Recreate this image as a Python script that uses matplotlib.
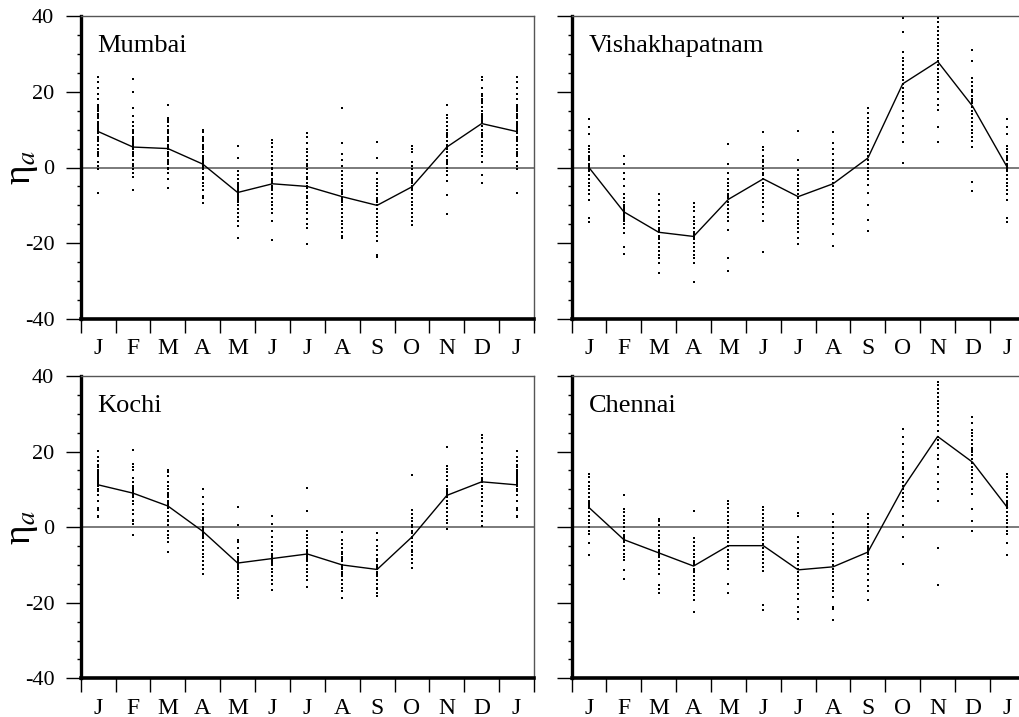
import numpy as np
import matplotlib.pyplot as plt
from matplotlib.ticker import MultipleLocator, FixedLocator

plt.rcParams['font.family'] = ['Liberation Serif', 'DejaVu Serif']
plt.rcParams['mathtext.fontset'] = 'stix'
plt.rcParams['axes.unicode_minus'] = False

months = ['J', 'F', 'M', 'A', 'M', 'J', 'J', 'A', 'S', 'O', 'N', 'D', 'J']

# monthly mean sea level anomaly (cm)
mumbai_mean = [9.5, 5.4, 5.0, 0.9, -6.6, -4.3, -5.0, -7.7, -10.0, -5.1, 5.4, 11.6]
vizag_mean = [0.0, -11.7, -17.1, -18.2, -8.4, -3.0, -7.7, -4.3, 2.5, 22.1, 28.0, 16.2]
kochi_mean = [11.2, 9.0, 5.6, -1.1, -9.5, -8.3, -7.1, -10.0, -11.2, -2.6, 8.4, 12.0]
chennai_mean = [5.2, -3.3, -6.8, -10.3, -4.9, -4.9, -11.3, -10.5, -6.6, 10.3, 24.0, 17.2]

# individual years, one list per month
mumbai_pts = [
    [23.8, 22.5, 21, 19.5, 18, 16.5, 16, 15.5, 15, 14, 13.5, 13, 12, 11.5, 11, 10.5, 10, 9.5, 9, 8, 7.5, 7, 6, 5, 4, 3.5, 3, 1.5, 0.5, -0.5, -6.8],
    [23.3, 19.9, 15.6, 13.5, 12, 11, 10, 9.5, 9, 8, 7.5, 7, 6.5, 6, 5.5, 5, 4, 3.5, 3, 2, 1, 0.5, -0.5, -1.5, -2.5, -6],
    [16.5, 13, 12.5, 12, 11, 10, 9.5, 9, 8, 7.5, 7, 6, 5.5, 5, 4, 3.5, 3, 2, 1.5, 1, 0, -0.5, -1.5, -3, -5.5],
    [10, 9.5, 8, 7.5, 7, 6, 5.5, 5, 4, 3, 2.5, 2, 1.5, 1, 0.5, 0, -0.5, -1.5, -2.5, -3, -4, -5, -6, -7.5, -8, -9.5],
    [5.8, 2.5, -1, -2, -3, -4, -4.5, -5, -5.5, -6, -6.5, -7, -7.5, -8, -8.5, -9, -10, -11, -12, -13, -14, -15.5, -18.7],
    [7.2, 6.5, 5.5, 4, 3, 2, 1, 0, -0.5, -1.5, -2, -3, -3.5, -4, -5, -5.5, -6, -7, -8, -9, -10, -11, -12, -14, -19.2],
    [9.2, 8, 6.5, 5, 4, 3, 2, 1, 0.5, -0.5, -1.5, -2.5, -3, -4, -5, -5.5, -6.5, -7.5, -8, -9, -10, -11, -12, -13.5, -15, -16, -20.2],
    [15.6, 6.6, 3.5, 2, 0.5, -1, -2, -3, -4, -5, -6, -6.5, -7, -8, -8.5, -9, -10, -11, -12, -13, -14, -15, -16, -17, -18, -18.5],
    [6.7, 2.4, -1.5, -3, -4, -5, -6, -7, -8, -8.5, -9, -10, -11, -12, -13, -14, -15, -16, -17, -18, -19.5, -23, -23.5],
    [5.8, 5, 4, 1.5, 0.5, -0.5, -1.5, -2, -3, -3.5, -4, -5, -5.5, -6, -7, -8, -9, -10, -11, -12, -13, -14, -15.3],
    [16.5, 13.8, 13, 12, 11, 10, 9, 8.5, 8, 7, 6, 5.5, 5, 4, 3, 2, 1.5, 1, 0, -1, -2, -3.5, -7.2, -12.2],
    [24, 23, 21, 19.5, 19, 18, 17.5, 17, 16, 15, 14, 13.5, 13, 12.5, 12, 11, 10, 9, 8.5, 8, 7, 6, 5, 4, 3, 1.5, -2, -4],
]
vizag_pts = [
    [12.8, 10.8, 8.8, 5.8, 5, 4, 3, 2.5, 2, 1, 0.5, 0, -0.5, -1, -2, -3, -4, -5, -6, -7, -8.5, -13.4, -14.4],
    [3.1, 0.9, -1.5, -3, -5, -7, -8, -9, -10, -10.5, -11, -11.5, -12, -12.5, -13, -13.5, -14, -15, -16, -17.4, -20.9, -22.8],
    [-7.1, -8.5, -10, -11.5, -13, -14, -15, -16, -16.5, -17, -18, -18.5, -19, -20, -21, -22, -23, -24, -25.3, -27.8],
    [-9.3, -10.3, -11.5, -13, -14, -15, -16, -17, -17.5, -18, -18.5, -19, -20, -21, -22, -23, -24, -25.3, -30.1],
    [6.1, 0.9, -1.5, -3, -4, -5, -6, -7, -7.5, -8, -9, -10, -11, -12, -13, -14, -16.5, -23.8, -27.3],
    [9.4, 5.5, 4.5, 3, 2, 1.5, 0.5, -0.5, -1.5, -2, -3, -4, -5, -6, -7, -8, -9, -10.5, -12.2, -14, -22.2],
    [9.7, 2, -0.6, -2, -3, -4, -5, -6, -7, -8, -9, -10, -11, -12, -13, -14, -15, -16, -17, -18.7, -20.2],
    [9.4, 6.5, 5, 3.5, 2, 1, 0, -1, -2, -3, -4, -5, -6, -7, -8, -9, -10, -11, -12, -13.5, -15, -17.5, -20.6],
    [15.6, 14.3, 13, 12, 11, 10, 9, 8, 7, 6, 5, 4, 3, 2, 1, 0, -1, -2, -3, -4.5, -6.8, -9.9, -13.8, -16.7],
    [39.4, 35.8, 30.5, 29, 28, 27, 26, 25, 24, 23, 22, 21, 20, 19, 18, 17, 15, 13, 11, 9, 6.7, 1.2],
    [39.6, 38.5, 37, 36, 35, 34, 33, 32, 31, 30, 29, 28, 27, 26, 25, 24, 23, 22, 21, 20, 18, 16.5, 15.3, 10.8, 6.7],
    [31, 28, 23.5, 22.5, 21.5, 20.5, 20, 19, 18, 17.5, 17, 16, 15, 14, 13, 12, 11, 10, 9, 8, 7, 5.5, -3.7, -6.3],
]
kochi_pts = [
    [20.1, 18.5, 17.5, 16.5, 16, 15, 14.5, 14, 13.5, 13, 12.5, 12, 11.5, 11, 10, 9.5, 8.5, 7, 5, 4.5, 3, 2.6],
    [20.4, 16.6, 16, 15, 13, 12, 11, 10.5, 10, 9.5, 9, 8.5, 8, 7, 6, 4.5, 3.5, 2, 1.5, 0.9, -2.2],
    [15.2, 14.5, 13.5, 12, 11, 10, 9, 8.5, 8, 7, 6.5, 6, 5.5, 5, 4, 3, 2, 1.5, 0.5, -1, -2, -3, -4, -6.6],
    [10.1, 7.9, 6, 4.5, 3.5, 2.5, 2, 1, 0, -0.5, -1, -1.5, -2, -2.5, -3, -4, -5, -6, -7, -8, -9, -10, -11, -12.3],
    [5.3, 0.6, -3.5, -4, -5.5, -7, -8, -8.5, -9, -9.5, -10, -10.5, -11, -12, -13, -14, -15, -16, -17, -18, -18.7],
    [2.9, 0.9, -1, -2.5, -4, -5, -6, -7, -7.5, -8, -8.5, -9, -9.5, -10, -11, -12, -13, -14, -15, -16.6],
    [10.3, 4.2, -0.9, -2, -3, -4, -5, -6, -6.5, -7, -7.5, -8, -8.5, -9, -10, -11, -12, -13, -14, -15.9],
    [-1.3, -3.5, -4.5, -5.5, -6.5, -7, -8, -8.5, -9, -10, -10.5, -11, -12, -12.5, -13, -14, -15, -16, -17, -18.7],
    [-1.6, -3.5, -5, -6, -7.5, -8.5, -9, -10, -10.5, -11, -12, -12.5, -13, -14, -15, -16, -16.5, -17.5, -18.3],
    [13.8, 4.6, 3.5, 2.5, 1.5, 0.5, 0, -1, -1.5, -2.5, -3, -4, -5, -6, -6.5, -7.5, -8.5, -9.5, -10.7],
    [21.3, 16.3, 15.5, 14.5, 13.5, 12.5, 11, 10, 9.5, 9, 8.5, 8, 7, 6, 5, 4, 3, 2, 1, -0.4],
    [24.5, 23.5, 22.5, 21, 19.5, 18, 17, 16, 15, 14, 13, 12.5, 12, 11, 10, 9, 8, 7, 5.5, 4, 3, 1.5, 0.4],
]
chennai_pts = [
    [14.1, 13.2, 12, 11, 10, 9, 8, 7, 6.5, 6, 5.5, 5, 4, 3, 2, 1, 0, -1, -1.8, -4.1, -7.3],
    [8.6, 4.8, 4, 3, 2, 1, 0, -1, -2, -2.5, -3, -3.5, -4, -5, -6, -7, -8, -8.8, -11.3, -13.8],
    [2.2, 1.5, 0.5, -1, -2, -3, -4, -5, -6, -6.5, -7, -7.5, -8, -9, -10, -11, -12.3, -15.4, -16.3, -17.4],
    [4.2, -2.9, -4, -5, -6, -7, -8, -9, -9.5, -10, -11, -11.5, -12, -13, -14, -15, -16, -17, -18, -19.4, -22.5],
    [7.0, 6, 5, 4, 3, 2, 1, 0, -1, -2, -3, -4, -5, -6, -7, -8, -9, -10, -11, -15, -17.4],
    [5.3, 4.5, 3.5, 2.5, 1.5, 0.5, -0.5, -1.5, -2.5, -3.5, -4.5, -5.5, -6.5, -7.5, -8.5, -9.5, -10.5, -11.6, -20.7, -21.9],
    [3.7, 3, -2.6, -4, -5.5, -7, -8, -9, -10, -11, -12, -13, -14, -15, -16, -17.6, -19, -21.1, -22.5, -24.2],
    [3.5, 1.3, 0, -1.5, -3, -4.5, -6, -7, -8, -9, -10, -11, -12, -13, -14, -15, -16, -17, -18.5, -21, -21.6, -24.5],
    [3.5, 2.5, 0.9, 0, -1, -2, -3, -4, -5, -5.5, -6, -6.5, -7, -8, -8.8, -10.1, -11, -12.5, -14, -15.5, -17, -19.4],
    [26, 23.8, 22, 20, 18.5, 17, 16, 15.5, 14, 13, 12, 11, 10, 9, 8, 7, 5.3, 3, 0.5, -2.6, -9.7],
    [38.3, 37.5, 36.5, 35.5, 34.5, 33.5, 32.5, 31.5, 30.5, 29.5, 28, 27, 25.5, 23.8, 23, 22, 21, 19, 18, 16, 14, 12, 10, 7, -5.6, -15.2],
    [29.1, 27.5, 25.6, 25, 24, 23, 22, 21, 20.5, 20, 19, 18, 17, 16, 15, 14, 13, 12, 10, 8.8, 4.8, 1.5, -0.9],
]

stations = ['Mumbai', 'Vishakhapatnam', 'Kochi', 'Chennai']
means = [mumbai_mean, vizag_mean, kochi_mean, chennai_mean]
points = [mumbai_pts, vizag_pts, kochi_pts, chennai_pts]

W, H = 1019, 717
fig = plt.figure(figsize=(W / 100, H / 100), dpi=100)

# axes boxes in pixels: left, top, width, height
boxes = [(80.7, 16, 453.3, 303), (571.5, 16, 453.3, 303),
         (80.7, 376, 453.3, 302.3), (571.5, 376, 453.3, 302.3)]

for k in range(4):
    l, t, w, h = boxes[k]
    ax = fig.add_axes([l / W, (H - t - h) / H, w / W, h / H])
    x = np.arange(1, 14)

    # scatter of individual years (January repeated at the end)
    pts = points[k] + [points[k][0]]
    for i, vals in enumerate(pts):
        ax.plot(np.full(len(vals), x[i]), vals, 'ks', ms=1.5, mew=0, ls='none')

    m = means[k] + [means[k][0]]
    ax.plot(x, m, color='k', lw=1.0)
    ax.axhline(0, color='#707070', lw=1.3, zorder=0)

    ax.set_xlim(0.5, 13.5)
    ax.set_ylim(-40, 40)

    ax.spines['left'].set_linewidth(2.4)
    ax.spines['bottom'].set_linewidth(2.6)
    for s in ['top', 'right']:
        ax.spines[s].set_linewidth(1.0)
        ax.spines[s].set_color('#555555')

    ax.xaxis.set_major_locator(FixedLocator(x))
    ax.set_xticklabels(months)
    ax.xaxis.set_minor_locator(FixedLocator(np.arange(0.5, 14, 1)))
    ax.tick_params(axis='x', which='major', length=0, pad=14, labelsize=17)
    ax.tick_params(axis='x', which='minor', direction='out', length=10, width=1.0)

    ax.yaxis.set_major_locator(MultipleLocator(20))
    ax.yaxis.set_minor_locator(MultipleLocator(5))
    ax.tick_params(axis='y', which='major', direction='out', length=11, width=1.0,
                   pad=8, labelsize=16)
    ax.tick_params(axis='y', which='minor', direction='out', length=3, width=1.0)

    if k % 2 == 0:
        ax.text(-0.128, 0.5, r'η$_a$', transform=ax.transAxes, rotation=90,
                ha='center', va='center', fontsize=27)
    else:
        ax.set_yticklabels([])

    ax.text(0.0375, 0.88, stations[k], transform=ax.transAxes,
            fontsize=19, va='baseline', ha='left')

fig.savefig('out.png', dpi=100)
